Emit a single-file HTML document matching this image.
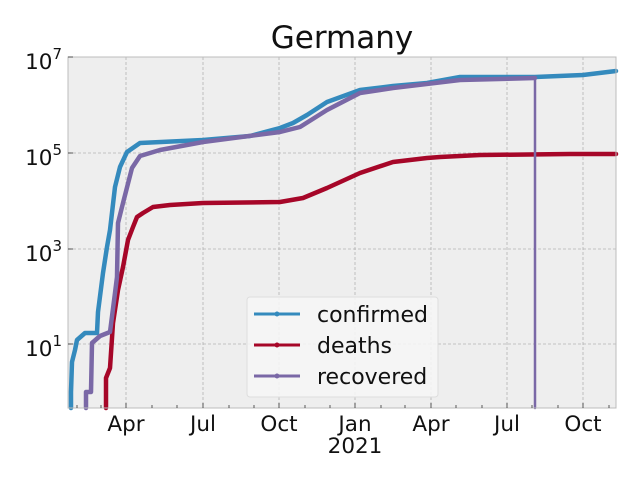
<!DOCTYPE html>
<html><head><style>
body{margin:0;background:#fff;}
svg{display:block;font-family:"DejaVu Sans","Liberation Sans",sans-serif;}
</style></head><body>
<svg width="640" height="480" viewBox="0 0 640 480" xmlns="http://www.w3.org/2000/svg">
<rect x="68" y="57" width="548" height="351" fill="#eeeeee"/>
<g stroke="#b2b2b2" stroke-width="0.8" stroke-dasharray="3,2">
<line x1="126" y1="57" x2="126" y2="408"/><line x1="203" y1="57" x2="203" y2="408"/>
<line x1="279" y1="57" x2="279" y2="408"/><line x1="355" y1="57" x2="355" y2="408"/>
<line x1="431" y1="57" x2="431" y2="408"/><line x1="507" y1="57" x2="507" y2="408"/>
<line x1="583" y1="57" x2="583" y2="408"/>
<line x1="68" y1="153" x2="616" y2="153"/><line x1="68" y1="249" x2="616" y2="249"/>
<line x1="68" y1="344" x2="616" y2="344"/>
</g>
<g fill="none" stroke-linejoin="round" stroke-linecap="round">
<polyline stroke="#A60628" stroke-width="4.5" points="106,408 106,378 110,368 113,323 118,290 123,267 128,240 133,227 137,217 143,213 153,207 170,205 203,203 280,202 303,198 327,188 360,173 393,162 427,158 440,157 480,155 570,154 616,154"/>
<polyline stroke="#348ABD" stroke-width="4.5" points="71,408 71,392 72,362 75,350 77,340 85,333 97,333 98,312 103,273 107,247 110,230 115,187 120,167 127,152 140,143 203,140 250,136 280,128 293,123 307,115 327,102 360,90 393,86 427,83 460,77 535,77 583,75 616,71"/>
<polyline stroke="#7A68A6" stroke-width="4.5" points="86,408 86,392 91,392 92,343 100,336 110,332 115,293 117,277 118,223 123,203 132,168 140,156 160,150 203,142 280,132 300,127 327,110 360,93 393,88 460,80 535,78"/>
<line x1="535" y1="78" x2="535" y2="408" stroke="#7A68A6" stroke-width="2.5"/>
</g>
<rect x="68" y="57" width="548" height="351" fill="none" stroke="#bcbcbc" stroke-width="1"/>
<g stroke="#333" stroke-width="0.8">
<line x1="126" y1="408" x2="126" y2="403"/><line x1="203" y1="408" x2="203" y2="403"/>
<line x1="279" y1="408" x2="279" y2="403"/><line x1="355" y1="408" x2="355" y2="403"/>
<line x1="431" y1="408" x2="431" y2="403"/><line x1="507" y1="408" x2="507" y2="403"/>
<line x1="583" y1="408" x2="583" y2="403"/>
<line x1="77" y1="408" x2="77" y2="405"/><line x1="101" y1="408" x2="101" y2="405"/>
<line x1="152" y1="408" x2="152" y2="405"/><line x1="177" y1="408" x2="177" y2="405"/>
<line x1="229" y1="408" x2="229" y2="405"/><line x1="254" y1="408" x2="254" y2="405"/>
<line x1="305" y1="408" x2="305" y2="405"/><line x1="330" y1="408" x2="330" y2="405"/>
<line x1="381" y1="408" x2="381" y2="405"/><line x1="405" y1="408" x2="405" y2="405"/>
<line x1="456" y1="408" x2="456" y2="405"/><line x1="482" y1="408" x2="482" y2="405"/>
<line x1="532" y1="408" x2="532" y2="405"/><line x1="558" y1="408" x2="558" y2="405"/>
<line x1="609" y1="408" x2="609" y2="405"/>
<line x1="68" y1="57" x2="73" y2="57"/><line x1="68" y1="153" x2="73" y2="153"/>
<line x1="68" y1="249" x2="73" y2="249"/><line x1="68" y1="344" x2="73" y2="344"/>
</g>
<g font-size="21.5" fill="#111" text-anchor="end">
<text x="62" y="69">10<tspan font-size="15" dy="-10">7</tspan></text>
<text x="62" y="165">10<tspan font-size="15" dy="-10">5</tspan></text>
<text x="62" y="261">10<tspan font-size="15" dy="-10">3</tspan></text>
<text x="62" y="356">10<tspan font-size="15" dy="-10">1</tspan></text>
</g>
<g font-size="21.5" fill="#111" text-anchor="middle">
<text x="126" y="431">Apr</text><text x="203" y="431">Jul</text><text x="279" y="431">Oct</text>
<text x="355" y="431">Jan</text><text x="431" y="431">Apr</text><text x="507" y="431">Jul</text>
<text x="583" y="431">Oct</text><text x="355" y="453">2021</text>
<text x="342" y="48" font-size="31">Germany</text>
</g>
<rect x="247" y="297" width="191" height="100" rx="3" fill="#f5f5f5" fill-opacity="0.9" stroke="#dddddd"/>
<g stroke-width="3">
<line x1="254" y1="314" x2="300" y2="314" stroke="#348ABD"/>
<line x1="254" y1="345" x2="300" y2="345" stroke="#A60628"/>
<line x1="254" y1="376" x2="300" y2="376" stroke="#7A68A6"/>
</g>
<circle cx="277" cy="314" r="2.5" fill="#348ABD"/>
<circle cx="277" cy="345" r="2.5" fill="#A60628"/>
<circle cx="277" cy="376" r="2.5" fill="#7A68A6"/>
<g font-size="22" fill="#111">
<text x="317" y="322">confirmed</text>
<text x="317" y="353">deaths</text>
<text x="317" y="384">recovered</text>
</g>
</svg>
</body></html>
